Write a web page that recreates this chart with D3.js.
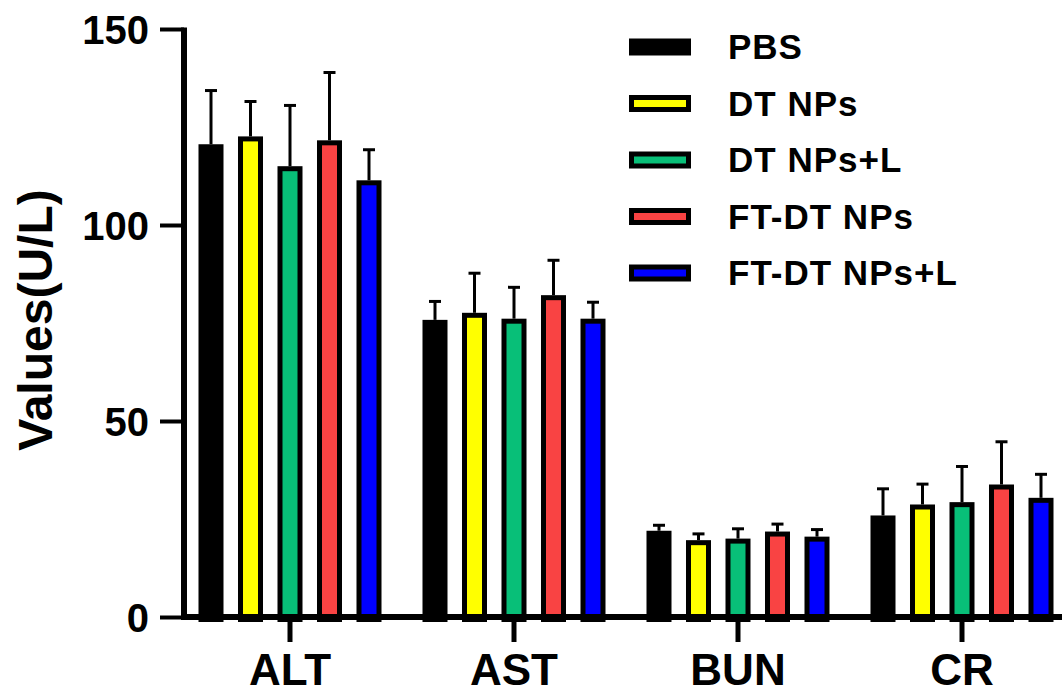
<!DOCTYPE html>
<html>
<head>
<meta charset="utf-8">
<script src="https://cdn.jsdelivr.net/npm/d3@7/dist/d3.min.js"></script>
<style>
  html, body { margin: 0; padding: 0; background: #fff; }
  svg { display: block; }
  text { font-family: "Liberation Sans", Arial, Helvetica, sans-serif; font-weight: bold; fill: #000; }
</style>
</head>
<body>
<svg id="chart" width="1062" height="695"></svg>
<script>
const categories = ["ALT", "AST", "BUN", "CR"];
const seriesNames = ["PBS", "DT NPs", "DT NPs+L", "FT-DT NPs", "FT-DT NPs+L"];
const seriesColors = ["#000000", "#FFFF00", "#08BF78", "#F94343", "#0000FF"];
// means per series, in category order ALT, AST, BUN, CR
const pbsMean    = [120.6, 75.8, 22.0, 25.9];
const dtMean     = [122.6, 77.6, 19.6, 28.7];
const dtLMean    = [115.0, 76.1, 20.0, 29.3];
const ftdtMean   = [121.6, 82.1, 21.8, 33.8];
const ftdtLMean  = [111.4, 76.1, 20.5, 30.4];
// upper error (SD) per series
const pbsSD   = [13.7, 4.7, 1.4, 6.8];
const dtSD    = [8.9, 10.1, 1.6, 5.2];
const dtLSD   = [15.5, 8.0, 2.5, 9.1];
const ftdtSD  = [17.3, 8.9, 1.9, 10.9];
const ftdtLSD = [7.8, 4.2, 1.8, 6.0];
const yTicks = [0, 50, 100, 150];
const yLabel = "Values(U/L)";

const means = [pbsMean, dtMean, dtLMean, ftdtMean, ftdtLMean];
const sds = [pbsSD, dtSD, dtLSD, ftdtSD, ftdtLSD];

const svg = d3.select("#chart");
const yBottom = 617, yTop = 29;
const xAxisLeft = 184, xAxisRight = 1062;

const y = d3.scaleLinear().domain([0, 150]).range([yBottom, yTop]);
const x0 = d3.scaleBand().domain(categories).range([178, 1074]).padding(0);
const groupW = 197.5;
const x1 = d3.scaleBand().domain(seriesNames)
  .range([(x0.bandwidth() - groupW) / 2, (x0.bandwidth() + groupW) / 2])
  .paddingInner(0.367).paddingOuter(0.1835);

const data = [];
categories.forEach((c, ci) => {
  seriesNames.forEach((s, si) => {
    data.push({cat: c, series: s, color: seriesColors[si], mean: means[si][ci], sd: sds[si][ci]});
  });
});

const bw = x1.bandwidth();
const sw = 5;
const g = svg.append("g");

// bars
g.selectAll("rect.bar").data(data).join("rect")
  .attr("class", "bar")
  .attr("x", d => x0(d.cat) + x1(d.series) + sw / 2)
  .attr("width", bw - sw)
  .attr("y", d => y(d.mean) + sw / 2)
  .attr("height", d => y(0) - y(d.mean))
  .attr("fill", d => d.color)
  .attr("stroke", "#000")
  .attr("stroke-width", sw);

// error bars
const eb = g.selectAll("g.err").data(data).join("g").attr("class", "err");
eb.append("line")
  .attr("x1", d => x0(d.cat) + x1(d.series) + bw / 2)
  .attr("x2", d => x0(d.cat) + x1(d.series) + bw / 2)
  .attr("y1", d => y(d.mean))
  .attr("y2", d => y(d.mean + d.sd))
  .attr("stroke", "#000").attr("stroke-width", 3);
eb.append("line")
  .attr("x1", d => x0(d.cat) + x1(d.series) + bw / 2 - 6)
  .attr("x2", d => x0(d.cat) + x1(d.series) + bw / 2 + 6)
  .attr("y1", d => y(d.mean + d.sd))
  .attr("y2", d => y(d.mean + d.sd))
  .attr("stroke", "#000").attr("stroke-width", 3);

// y axis
const yAxis = svg.append("g").attr("transform", `translate(${xAxisLeft},0)`)
  .call(d3.axisLeft(y).tickValues(yTicks).tickSize(24).tickSizeOuter(0).tickPadding(11));
yAxis.select(".domain").attr("stroke", "#000").attr("stroke-width", 6)
  .attr("d", `M0,${yTop - 1.5}V${yBottom + 3}`);
yAxis.selectAll(".tick line").attr("stroke", "#000").attr("stroke-width", 4);
yAxis.selectAll(".tick text")
  .style("font-family", '"Liberation Sans", Arial, sans-serif')
  .style("font-weight", "bold").style("font-size", "40px").attr("fill", "#000")
  .attr("dy", "0.36em");

// x axis
const xAxis = svg.append("g").attr("transform", `translate(0,${yBottom})`)
  .call(d3.axisBottom(x0).tickSize(25).tickSizeOuter(0).tickPadding(12));
xAxis.select(".domain").attr("stroke", "#000").attr("stroke-width", 6)
  .attr("d", `M${xAxisLeft - 3},0H${xAxisRight}`);
xAxis.selectAll(".tick line").attr("stroke", "#000").attr("stroke-width", 5);
xAxis.selectAll(".tick text")
  .style("font-family", '"Liberation Sans", Arial, sans-serif')
  .style("font-weight", "bold").style("font-size", "44px").attr("fill", "#000");

// y label
svg.append("text")
  .attr("transform", `translate(52,${(yTop + yBottom) / 2 - 3}) rotate(-90)`)
  .attr("text-anchor", "middle")
  .style("font-size", "48px")
  .text(yLabel);

// legend
const legend = svg.append("g");
const lgY0 = 47, lgStep = 56.5;
const lg = legend.selectAll("g").data(seriesNames).join("g")
  .attr("transform", (d, i) => `translate(629,${lgY0 + i * lgStep})`);
lg.append("rect")
  .attr("x", sw / 2).attr("y", -8.5 + sw / 2)
  .attr("width", 62 - sw).attr("height", 17 - sw)
  .attr("fill", (d, i) => seriesColors[i])
  .attr("stroke", "#000").attr("stroke-width", sw);
lg.append("text")
  .attr("x", 99).attr("y", 0).attr("dy", "0.35em")
  .style("font-size", "35px")
  .style("letter-spacing", "1px")
  .text(d => d);
</script>
</body>
</html>
